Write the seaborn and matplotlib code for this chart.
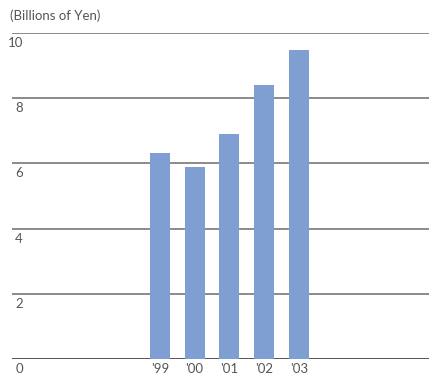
import matplotlib
matplotlib.use("Agg")
import matplotlib.pyplot as plt
import matplotlib.transforms as mtransforms
import seaborn as sns
import pandas as pd

# Data
years = ["'99", "'00", "'01", "'02", "'03"]
values = [6.31, 5.88, 6.89, 8.39, 9.49]
y_ticks = [0, 2, 4, 6, 8, 10]
unit_label = "(Billions of Yen)"

bar_color = "#7f9fd3"
text_color = "#555555"
grid_color = "#8a8a8a"

sns.set_theme(style="white")
plt.rcParams["font.family"] = ["Lato", "DejaVu Sans"]

df = pd.DataFrame({"year": years, "value": values})

W, H, DPI = 429, 377, 100
fig = plt.figure(figsize=(W / DPI, H / DPI), dpi=DPI)
ax = fig.add_axes([12 / W, 1 - 359 / H, 1 - 12 / W, (359 - 33) / H])

sns.barplot(data=df, x="year", y="value", order=years, color=bar_color,
            saturation=1, width=0.575, linewidth=0, edgecolor="none",
            ax=ax, zorder=3)

ax.set_ylim(0, 10)
ax.set_xlim(-4.25, 7.74)

# Horizontal rules
for v in y_ticks:
    ax.axhline(v, color="#555555" if v == 0 else grid_color,
               lw=1.4, zorder=2)

for s in ax.spines.values():
    s.set_visible(False)

ax.set_yticks([])
ax.set_xlabel("")
ax.set_ylabel("")
ax.tick_params(axis="x", length=0, pad=3, labelsize=9.5, labelcolor=text_color)

# Value labels tucked under each rule, right-aligned
trans = mtransforms.blended_transform_factory(fig.transFigure, ax.transData)
offset = mtransforms.ScaledTranslation(0, -4 / DPI, fig.dpi_scale_trans)
for v in y_ticks:
    ax.text(23 / W, v, str(v), transform=trans + offset, ha="right", va="top",
            fontsize=9.5, color=text_color)

fig.text(10 / W, 1 - 9 / H, unit_label, ha="left", va="top",
         fontsize=9.5, color=text_color)

fig.savefig("out.png", dpi=DPI)
